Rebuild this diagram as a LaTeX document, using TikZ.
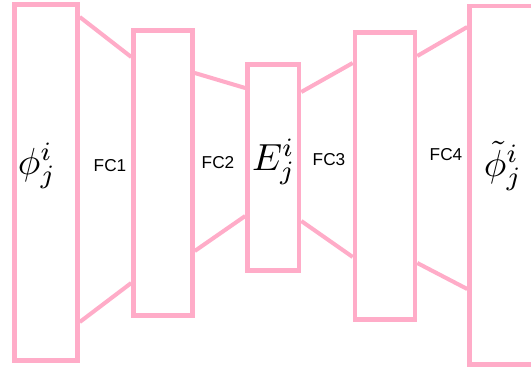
\documentclass[tikz,border=0pt]{standalone}
\usepackage{fontspec}
\setmainfont{Liberation Sans}
\usepackage{xcolor}
\usepackage{tikz}

\definecolor{netpink}{RGB}{255,172,200}

\tikzset{
    layer/.style={draw=netpink, line width=2.6pt, rectangle, inner sep=0pt},
    link/.style={draw=netpink, line width=2.3pt},
    fclabel/.style={font=\fontsize{9.8}{11}\selectfont},
    vec/.style={scale=2.15}
}

\begin{document}
\begin{tikzpicture}[x=0.02cm, y=-0.02cm]
        \useasboundingbox (0,0) rectangle (531,372);
        \clip (0,0) rectangle (531,372);

        % Layers of the network
        \node[layer, minimum width=1.26cm, minimum height=7.12cm] (in)  at (46,182.5) {};
        \node[layer, minimum width=1.18cm, minimum height=5.70cm] (h1)  at (163,173) {};
        \node[layer, minimum width=1.03cm, minimum height=4.12cm] (emb) at (273.25,167.5) {};
        \node[layer, minimum width=1.20cm, minimum height=5.74cm] (h2)  at (385,176) {};
        \node[layer, minimum width=1.50cm, minimum height=7.17cm] (out) at (507,185.25) {};

        % Links between the layers
        \draw[link] (in.east |- 0,17)   -- (h1.west |- 0,57);
        \draw[link] (in.east |- 0,322)  -- (h1.west |- 0,283);
        \draw[link] (h1.east |- 0,73)   -- (emb.west |- 0,88);
        \draw[link] (h1.east |- 0,251)  -- (emb.west |- 0,216);
        \draw[link] (emb.east |- 0,92)  -- (h2.west |- 0,63);
        \draw[link] (emb.east |- 0,221) -- (h2.west |- 0,257);
        \draw[link] (h2.east |- 0,56)   -- (out.west |- 0,27);
        \draw[link] (h2.east |- 0,263)  -- (out.west |- 0,289);

        % Labels
        \node[vec] (phi)  at (37,166)  {$\phi^i_j$};
        \node[vec] (E)    at (274,162) {$E^i_j$};
        \node[vec] (phit) at (503,166) {$\tilde{\phi}^i_j$};
        \node[fclabel] (fc1) at (110,166) {FC1};
        \node[fclabel] (fc2) at (218,163) {FC2};
        \node[fclabel] (fc3) at (329,160) {FC3};
        \node[fclabel] (fc4) at (446,155) {FC4};
    \end{tikzpicture}
\end{document}
